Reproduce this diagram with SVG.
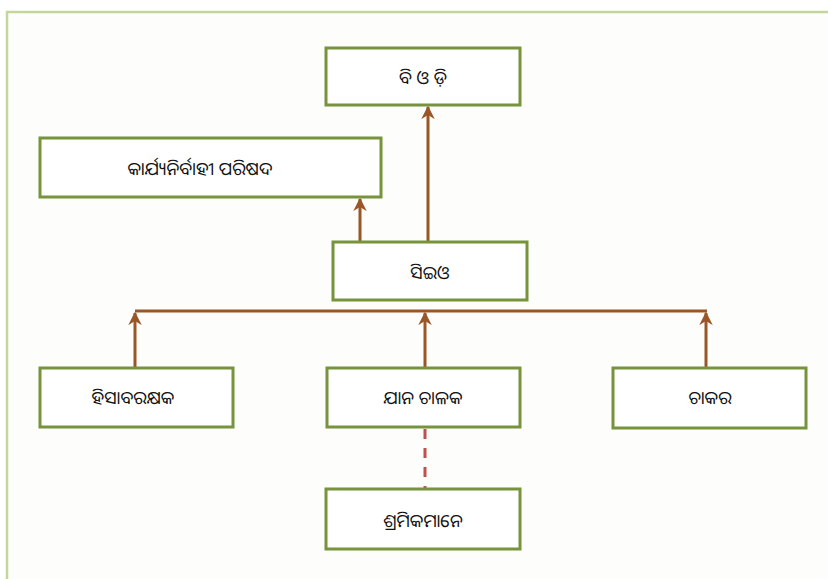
<svg xmlns="http://www.w3.org/2000/svg" width="828" height="579" viewBox="0 0 828 579">
<defs>
<style>
.box{fill:#ffffff;stroke:#77933c;stroke-width:3}
.lbl{font-family:"Noto Sans Oriya","Noto Sans","DejaVu Sans",sans-serif;font-size:18px;fill:#111;text-anchor:middle;dominant-baseline:central}
.con{stroke:#9b5628;stroke-width:3;fill:none}
.dash{stroke:#c0504d;stroke-width:3;stroke-dasharray:10 9;fill:none}
</style>
<marker id="ah" viewBox="0 0 10 10" refX="9" refY="5" markerWidth="4.5" markerHeight="4.5" orient="auto" markerUnits="strokeWidth">
<path d="M0,0 L10,5 L0,10 L3,5 Z" fill="#9b5628"/>
</marker>
</defs>
<rect width="828" height="579" fill="#ffffff"/>
<rect x="7" y="12" width="840" height="600" fill="#fdfdfb" stroke="#c3d69b" stroke-width="2.5"/>
<g id="connectors">
<line class="con" x1="428" y1="242" x2="428" y2="107" marker-end="url(#ah)"/>
<line class="con" x1="360" y1="242" x2="360" y2="199" marker-end="url(#ah)"/>
<line class="con" x1="135" y1="311" x2="707" y2="311"/>
<line class="con" x1="135" y1="368" x2="135" y2="313" marker-end="url(#ah)"/>
<line class="con" x1="425" y1="368" x2="425" y2="313" marker-end="url(#ah)"/>
<line class="con" x1="706" y1="368" x2="706" y2="313" marker-end="url(#ah)"/>
<line class="dash" x1="425" y1="429" x2="425" y2="488"/>
</g>
<g id="bod"><rect class="box" x="326" y="48" width="194" height="57"/><text class="lbl" x="423" y="77">ବି ଓ ଡ଼ି</text></g>
<g id="exec"><rect class="box" x="40" y="138" width="341" height="59"/><text class="lbl" x="200" y="168">କାର୍ଯ୍ୟନିର୍ବାହୀ ପରିଷଦ</text></g>
<g id="ceo"><rect class="box" x="333" y="242" width="194" height="58"/><text class="lbl" x="430" y="272">ସିଇଓ</text></g>
<g id="accountant"><rect class="box" x="40" y="368" width="193" height="59"/><text class="lbl" x="133" y="397">ହିସାବରକ୍ଷକ</text></g>
<g id="driver"><rect class="box" x="327" y="368" width="193" height="59"/><text class="lbl" x="423" y="397">ଯାନ ଚାଳକ</text></g>
<g id="servant"><rect class="box" x="613" y="368" width="193" height="60"/><text class="lbl" x="710" y="397">ଚାକର</text></g>
<g id="workers"><rect class="box" x="326" y="489" width="194" height="60"/><text class="lbl" x="423" y="520">ଶ୍ରମିକମାନେ</text></g>
</svg>
